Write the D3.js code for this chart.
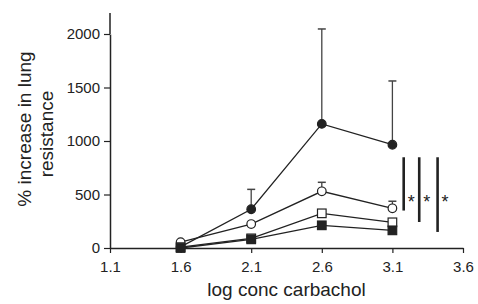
<!DOCTYPE html>
<html><head><meta charset="utf-8">
<script src="https://cdn.jsdelivr.net/npm/d3@7"></script>
<style>body{margin:0;background:#fff}svg{display:block}text{font-family:"Liberation Sans",Arial,sans-serif;fill:#222}</style>
</head><body>
<script>
const doses = [1.6, 2.1, 2.6, 3.1];
const filledCircle = [10, 362, 1160, 965];
const filledCircleErr = [10, 548, 2047, 1561];
const openCircle = [55, 224, 530, 371];
const openCircleErr = [55, 224, 614, 437];
const openSquare = [8, 90, 324, 240];
const filledSquare = [0, 81, 212, 165];
const xTicks = [1.1, 1.6, 2.1, 2.6, 3.1, 3.6];
const yTicks = [0, 500, 1000, 1500, 2000];
const sigBars = [[848, 350], [848, 243], [848, 150]];
const sigX = [3.18, 3.29, 3.42];

const W = 478, H = 304;
const svg = d3.select("body").append("svg").attr("width", W).attr("height", H);
const x = d3.scaleLinear().domain([1.1, 3.6]).range([110, 463]);
const y = d3.scaleLinear().domain([0, 2000]).range([248, 34]);
const ink = "#222";

// axes
const gx = svg.append("g").attr("transform", `translate(0,${y(0)})`)
  .call(d3.axisBottom(x).tickValues(xTicks).tickFormat(d3.format(".1f")).tickSize(5).tickSizeOuter(0));
const gy = svg.append("g").attr("transform", `translate(${x(1.1)},0)`)
  .call(d3.axisLeft(y).tickValues(yTicks).tickFormat(d3.format("d")).tickSize(6).tickSizeOuter(0));
[gx, gy].forEach(g => {
  g.select(".domain").attr("stroke", ink).attr("stroke-width", 1.5);
  g.selectAll(".tick line").attr("stroke", ink).attr("stroke-width", 1.2);
  g.selectAll(".tick text").attr("font-size", 15).attr("fill", "#333").attr("font-family", "Liberation Sans, Arial, sans-serif");
});
gx.selectAll(".tick text").attr("dy", "1.05em");
gy.selectAll(".tick text").attr("dx", "-1px");
// extend y axis up
gy.append("line").attr("x1", 0).attr("x2", 0).attr("y1", y(2000)).attr("y2", 13).attr("stroke", ink).attr("stroke-width", 1.5);

// labels
svg.append("text").attr("x", x(2.35)).attr("y", 296).attr("text-anchor", "middle").attr("font-size", 19).text("log conc carbachol");
svg.append("text").attr("transform", "translate(31,129) rotate(-90)").attr("text-anchor", "middle").attr("font-size", 19).text("% increase in lung");
svg.append("text").attr("transform", "translate(53,134) rotate(-90)").attr("text-anchor", "middle").attr("font-size", 19).text("resistance");

const line = d3.line().x((d, i) => x(doses[i])).y(d => y(d));
const series = [
  {v: filledCircle, e: filledCircleErr, shape: "circle", fill: ink},
  {v: openCircle, e: openCircleErr, shape: "circle", fill: "#fff"},
  {v: openSquare, e: null, shape: "square", fill: "#fff"},
  {v: filledSquare, e: null, shape: "square", fill: ink}
];
series.forEach(s => {
  if (s.e) {
    s.e.forEach((e, i) => {
      if (e <= s.v[i]) return;
      svg.append("line").attr("x1", x(doses[i])).attr("x2", x(doses[i])).attr("y1", y(s.v[i])).attr("y2", y(e)).attr("stroke", "#444").attr("stroke-width", 1.3);
      svg.append("line").attr("x1", x(doses[i]) - 4).attr("x2", x(doses[i]) + 4).attr("y1", y(e)).attr("y2", y(e)).attr("stroke", "#444").attr("stroke-width", 1.5);
    });
  }
});
series.forEach(s => {
  svg.append("path").attr("d", line(s.v)).attr("fill", "none").attr("stroke", ink).attr("stroke-width", 1.3);
});
series.forEach(s => {
  s.v.forEach((v, i) => {
    if (s.shape === "circle") {
      svg.append("circle").attr("cx", x(doses[i])).attr("cy", y(v)).attr("r", 4.3).attr("fill", s.fill).attr("stroke", ink).attr("stroke-width", 1.2);
    } else {
      svg.append("rect").attr("x", x(doses[i]) - 4.3).attr("y", y(v) - 4.3).attr("width", 8.6).attr("height", 8.6).attr("fill", s.fill).attr("stroke", ink).attr("stroke-width", 1.2);
    }
  });
});

// significance bars
sigBars.forEach((b, i) => {
  svg.append("line").attr("x1", x(sigX[i])).attr("x2", x(sigX[i])).attr("y1", y(b[0])).attr("y2", y(b[1])).attr("stroke", ink).attr("stroke-width", 2.6);
  svg.append("text").attr("x", x(sigX[i]) + 4).attr("y", 208).attr("font-size", 18).text("*");
});
</script>
</body></html>
